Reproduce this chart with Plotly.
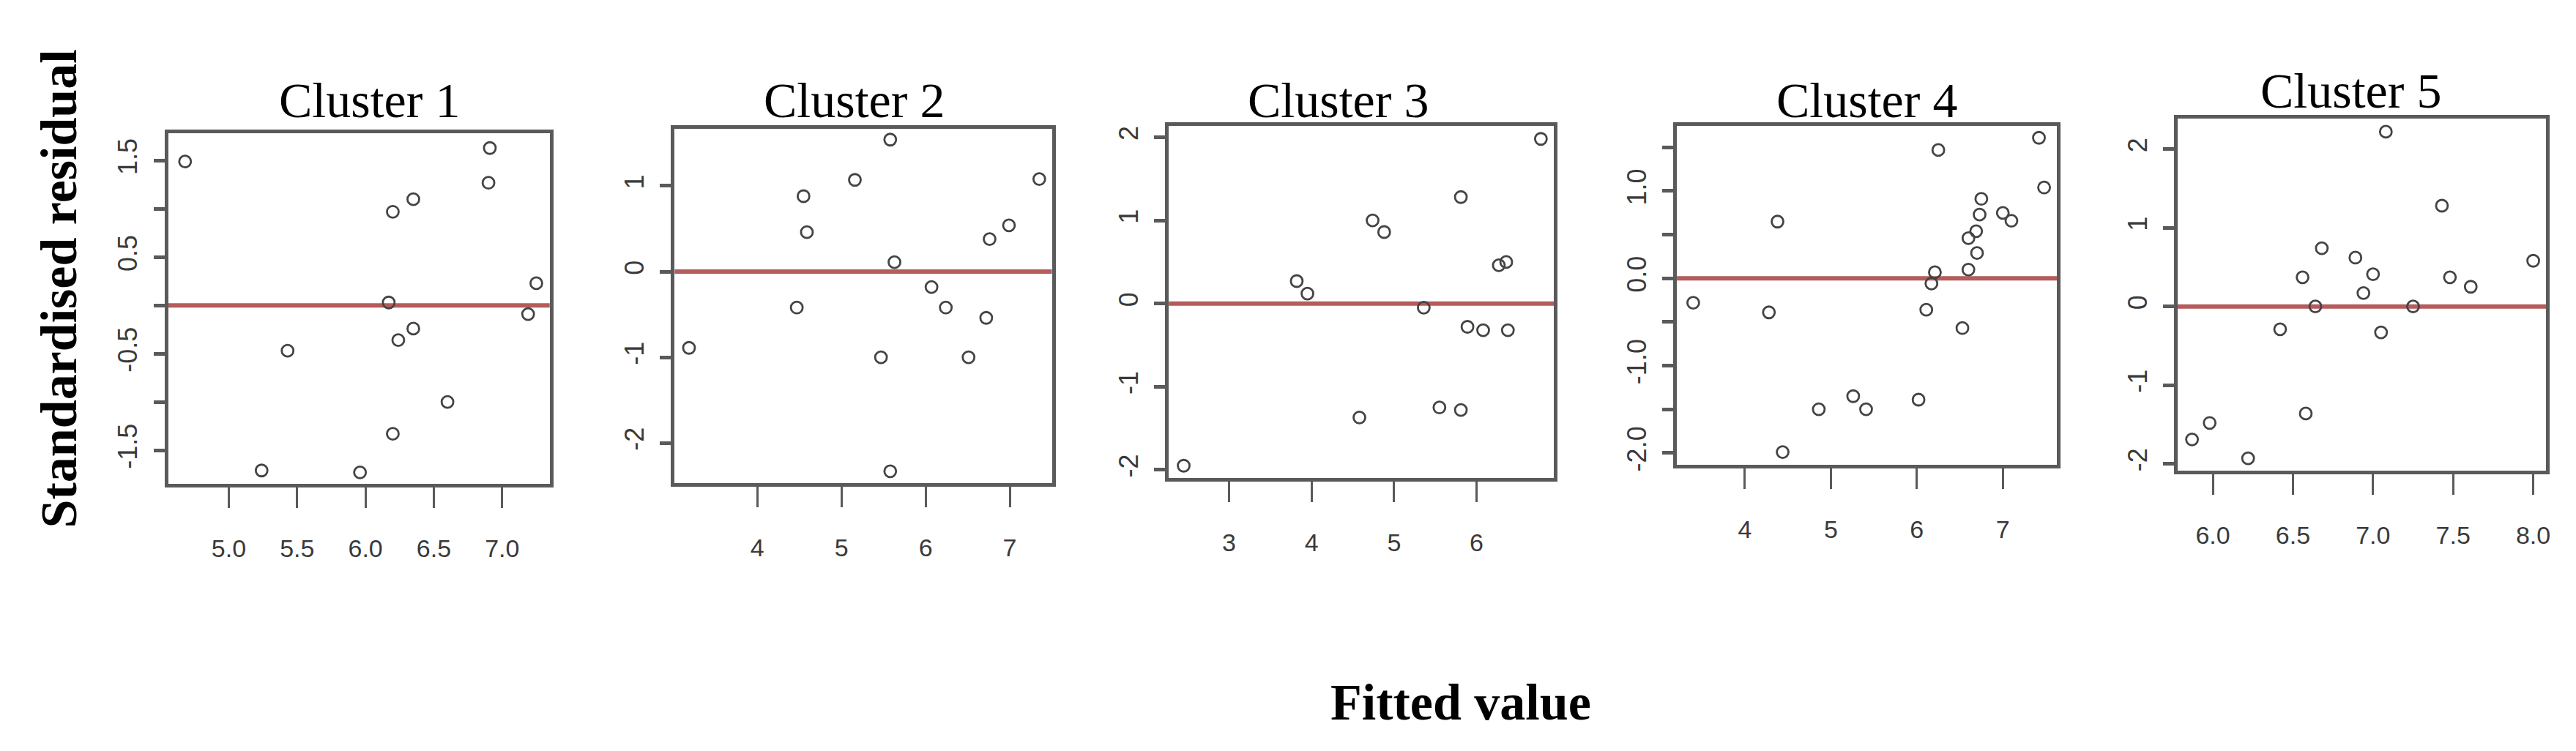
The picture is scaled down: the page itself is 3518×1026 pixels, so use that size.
import plotly.graph_objects as go

# ---- data ----
titles = ["Cluster 1", "Cluster 2", "Cluster 3", "Cluster 4", "Cluster 5"]

c1_x = [4.68, 6.91, 6.90, 6.35, 6.20, 7.25, 6.17, 7.19, 6.35, 6.24, 5.43, 6.60, 6.20, 5.24, 5.96]
c1_y = [1.49, 1.63, 1.27, 1.10, 0.97, 0.23, 0.03, -0.09, -0.24, -0.36, -0.47, -1.00, -1.33, -1.71, -1.73]

c2_x = [5.58, 5.16, 7.35, 4.55, 6.99, 4.59, 6.76, 5.63, 6.07, 6.24, 4.47, 6.72, 3.19, 5.47, 6.51, 5.58]
c2_y = [1.54, 1.07, 1.08, 0.88, 0.54, 0.46, 0.38, 0.11, -0.18, -0.42, -0.42, -0.54, -0.89, -1.00, -1.00, -2.33]

c3_x = [6.78, 5.81, 4.74, 4.88, 6.36, 6.27, 3.82, 3.95, 5.36, 5.89, 6.08, 6.38, 5.55, 5.81, 4.58, 2.45]
c3_y = [1.98, 1.28, 1.00, 0.86, 0.50, 0.46, 0.27, 0.12, -0.05, -0.28, -0.32, -0.32, -1.25, -1.28, -1.37, -1.95]

c4_x = [7.42, 6.25, 7.48, 6.75, 6.73, 7.00, 7.10, 4.38, 6.69, 6.60, 6.70, 6.21, 6.60, 6.17,
        3.40, 4.28, 6.11, 6.53, 5.26, 6.02, 4.86, 5.41, 4.44]
c4_y = [1.61, 1.47, 1.04, 0.91, 0.73, 0.75, 0.66, 0.65, 0.54, 0.46, 0.29, 0.07, 0.10, -0.06,
        -0.28, -0.39, -0.36, -0.57, -1.35, -1.39, -1.50, -1.50, -1.99]

c5_x = [7.08, 7.43, 6.68, 6.89, 8.00, 7.00, 6.56, 7.48, 7.61, 6.94, 6.64, 7.25, 6.42, 7.05,
        6.58, 5.98, 5.87, 6.22]
c5_y = [2.22, 1.28, 0.74, 0.62, 0.58, 0.41, 0.37, 0.37, 0.25, 0.17, 0.00, 0.00, -0.29, -0.33,
        -1.36, -1.48, -1.69, -1.93]

# tick values / labels
x_tickvals = [[5.0, 5.5, 6.0, 6.5, 7.0], [4, 5, 6, 7], [3, 4, 5, 6], [4, 5, 6, 7],
              [6.0, 6.5, 7.0, 7.5, 8.0]]
x_ticktext = [["5.0", "5.5", "6.0", "6.5", "7.0"], ["4", "5", "6", "7"], ["3", "4", "5", "6"],
              ["4", "5", "6", "7"], ["6.0", "6.5", "7.0", "7.5", "8.0"]]
y_tickvals = [[-1.5, -1.0, -0.5, 0.0, 0.5, 1.0, 1.5], [-2, -1, 0, 1], [-2, -1, 0, 1, 2],
              [-2.0, -1.5, -1.0, -0.5, 0.0, 0.5, 1.0, 1.5], [-2, -1, 0, 1, 2]]
y_ticktext = [["-1.5", "", "-0.5", "", "0.5", "", "1.5"], ["-2", "-1", "0", "1"],
              ["-2", "-1", "0", "1", "2"],
              ["-2.0", "", "-1.0", "", "0.0", "", "1.0", ""], ["-2", "-1", "0", "1", "2"]]

x_ranges = [[4.556, 7.348], [3.02, 7.50], [2.27, 6.94], [3.21, 7.63], [5.78, 8.08]]
y_ranges = [[-1.85, 1.78], [-2.47, 1.67], [-2.10, 2.14], [-2.14, 1.75], [-2.09, 2.39]]

# ---- layout geometry (pixels in the 3518x1026 canvas) ----
W, H = 3518, 1026
boxes = [(222, 744, 176, 659), (915, 1431, 169, 658), (1591, 2118, 165, 651),
         (2286, 2806, 165, 633), (2971, 3475, 155, 641)]
title_pos = [(497, 130), (1160, 130), (1823, 130), (2546, 130), (3208, 117)]

xs = [c1_x, c2_x, c3_x, c4_x, c5_x]
ys = [c1_y, c2_y, c3_y, c4_y, c5_y]

fig = go.Figure()
layout = dict(
    width=W, height=H, margin=dict(l=0, r=0, t=0, b=0),
    paper_bgcolor="white", plot_bgcolor="white", showlegend=False,
)

axis_color = "#5a5a5a"
shapes = []
annotations = []
for i in range(5):
    n = "" if i == 0 else str(i + 1)
    fig.add_trace(go.Scatter(
        x=xs[i], y=ys[i], mode="markers",
        xaxis="x" + n, yaxis="y" + n,
        marker=dict(symbol="circle-open", size=16, color="#444444",
                    line=dict(width=2.8, color="#444444")),
        hoverinfo="x+y",
    ))
    l, r, t, b = boxes[i]
    layout["xaxis" + n] = dict(
        domain=[l / W, r / W], range=x_ranges[i], anchor="y" + n,
        showgrid=False, zeroline=False, showline=True, mirror=True,
        linecolor=axis_color, linewidth=5,
        ticks="outside", ticklen=28, tickwidth=3, tickcolor=axis_color,
        tickvals=x_tickvals[i], ticktext=x_ticktext[i],
        tickfont=dict(family="Liberation Sans Narrow, Arial Narrow, Liberation Sans, Arial",
                      size=34, color="#3a3a3a"),
        ticklabelstandoff=26,
    )
    layout["yaxis" + n] = dict(
        domain=[1 - b / H, 1 - t / H], range=y_ranges[i], anchor="x" + n,
        showgrid=False, zeroline=False, showline=True, mirror=True,
        linecolor=axis_color, linewidth=5,
        ticks="outside", ticklen=15, tickwidth=5, tickcolor=axis_color,
        tickvals=y_tickvals[i], ticktext=y_ticktext[i], tickangle=-90,
        tickfont=dict(family="Liberation Sans, Arial", size=36, color="#3a3a3a"),
        ticklabelstandoff=8,
    )
    shapes.append(dict(
        type="line", xref="x" + n + " domain", yref="y" + n,
        x0=0, x1=1, y0=0, y1=0,
        line=dict(color="#b55c5c", width=6), layer="below",
    ))
    tx, ty = title_pos[i]
    annotations.append(dict(
        text=titles[i], xref="paper", yref="paper", x=tx / W, y=1 - ty / H,
        xanchor="center", yanchor="middle", showarrow=False,
        font=dict(family="Liberation Serif, Times New Roman, serif", size=68, color="black"),
    ))

annotations.append(dict(
    text="<b>Standardised residual</b>", xref="paper", yref="paper",
    x=73 / W, y=1 - 390 / H, xanchor="center", yanchor="middle",
    textangle=-90, showarrow=False,
    font=dict(family="Liberation Serif, Times New Roman, serif", size=70, color="black"),
))
annotations.append(dict(
    text="<b>Fitted value</b>", xref="paper", yref="paper",
    x=1990 / W, y=1 - 960 / H, xanchor="center", yanchor="middle",
    showarrow=False,
    font=dict(family="Liberation Serif, Times New Roman, serif", size=70, color="black"),
))

layout["shapes"] = shapes
layout["annotations"] = annotations
fig.update_layout(**layout)

fig.write_html("out.html")
